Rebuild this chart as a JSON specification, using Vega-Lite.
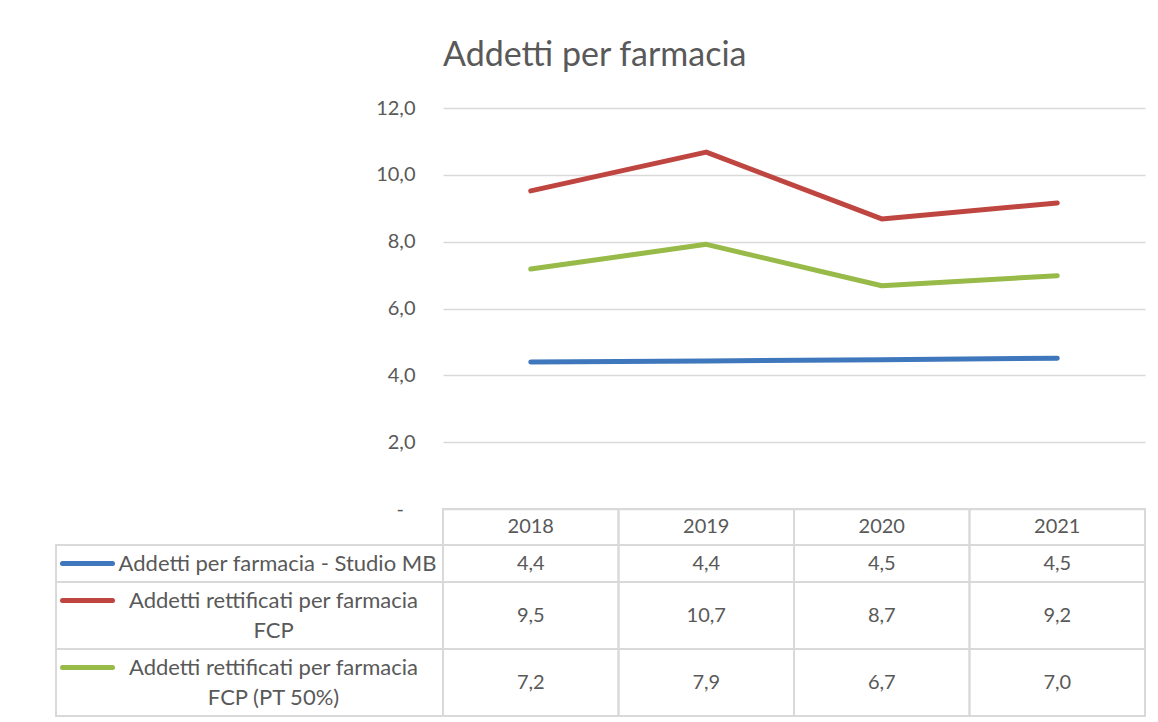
{
  "$schema": "https://vega.github.io/schema/vega-lite/v6.json",
  "padding": {"left": 51, "top": 39, "right": 5, "bottom": 5},
  "background": "white",
  "columns": 2,
  "spacing": 0,
  "bounds": "flush",
  "align": "each",
  "datasets": {
    "series": [
      {"year": "2018", "series": "Addetti per farmacia - Studio MB", "value": 4.40},
      {"year": "2019", "series": "Addetti per farmacia - Studio MB", "value": 4.43},
      {"year": "2020", "series": "Addetti per farmacia - Studio MB", "value": 4.47},
      {"year": "2021", "series": "Addetti per farmacia - Studio MB", "value": 4.51},
      {"year": "2018", "series": "Addetti rettificati per farmacia FCP", "value": 9.52},
      {"year": "2019", "series": "Addetti rettificati per farmacia FCP", "value": 10.68},
      {"year": "2020", "series": "Addetti rettificati per farmacia FCP", "value": 8.68},
      {"year": "2021", "series": "Addetti rettificati per farmacia FCP", "value": 9.16},
      {"year": "2018", "series": "Addetti rettificati per farmacia FCP (PT 50%)", "value": 7.18},
      {"year": "2019", "series": "Addetti rettificati per farmacia FCP (PT 50%)", "value": 7.92},
      {"year": "2020", "series": "Addetti rettificati per farmacia FCP (PT 50%)", "value": 6.68},
      {"year": "2021", "series": "Addetti rettificati per farmacia FCP (PT 50%)", "value": 6.98}
    ],
    "labels": [
      {"series": "Addetti per farmacia - Studio MB", "label": "Addetti per farmacia - Studio MB"},
      {"series": "Addetti rettificati per farmacia FCP", "label": "Addetti rettificati per farmacia\nFCP"},
      {"series": "Addetti rettificati per farmacia FCP (PT 50%)", "label": "Addetti rettificati per farmacia\nFCP (PT 50%)"}
    ],
    "years": [{"year": "2018"}, {"year": "2019"}, {"year": "2020"}, {"year": "2021"}]
  },
  "concat": [
    {
      "width": 387, "height": 401,
      "data": {"values": [{}]},
      "mark": {"type": "text"},
      "encoding": {"text": {"value": ""}}
    },
    {
      "width": 702, "height": 401,
      "title": {"text": "Addetti per farmacia", "anchor": "start", "frame": "group", "baseline": "alphabetic", "offset": -2, "fontSize": 34, "font": "Lato", "fontWeight": "normal", "color": "#595959"},
      "data": {"name": "series"},
      "mark": {"type": "line", "strokeWidth": 5, "strokeCap": "round", "strokeJoin": "round"},
      "encoding": {
        "x": {"field": "year", "type": "ordinal", "scale": {"type": "point", "padding": 0.5}, "axis": null},
        "y": {"field": "value", "type": "quantitative", "scale": {"domain": [0, 12], "nice": false},
          "axis": {"values": [0, 2, 4, 6, 8, 10, 12], "format": ".1f", "labelExpr": "datum.value == 0 ? '-\u2007\u200b' : datum.label", "grid": true, "gridColor": "#d9d9d9", "gridWidth": 1.5, "domain": false, "ticks": false, "labelPadding": 28, "labelFont": "Lato", "labelFontSize": 20, "labelColor": "#595959", "title": null}},
        "color": {"field": "series", "type": "nominal",
          "scale": {"domain": ["Addetti per farmacia - Studio MB", "Addetti rettificati per farmacia FCP", "Addetti rettificati per farmacia FCP (PT 50%)"], "range": ["#3F77BC", "#BF4541", "#97BA48"]},
          "legend": null}
      }
    },
    {
      "width": 387, "height": 36,
      "data": {"values": [{}]},
      "mark": {"type": "text"},
      "encoding": {"text": {"value": ""}}
    },
    {
      "width": 702, "height": 36,
      "data": {"name": "years"},
      "layer": [
        {"mark": {"type": "rect", "filled": false, "stroke": "#d9d9d9", "strokeWidth": 2},
         "encoding": {"x": {"field": "year", "type": "nominal", "scale": {"type": "band", "paddingInner": 0, "paddingOuter": 0}, "axis": null}}},
        {"mark": {"type": "text", "font": "Lato", "fontSize": 20, "fill": "#595959"},
         "encoding": {"x": {"field": "year", "type": "nominal", "axis": null}, "text": {"field": "year"}}}
      ]
    },
    {
      "width": 387, "height": 37,
      "view": {"stroke": "#d9d9d9", "strokeWidth": 2},
      "data": {"name": "labels"},
      "transform": [{"filter": "datum.series == 'Addetti per farmacia - Studio MB'"}],
      "layer": [
        {"mark": {"type": "point", "shape": "stroke", "size": 2500, "filled": false, "strokeWidth": 5, "strokeCap": "round", "opacity": 1, "xOffset": -162},
         "encoding": {"color": {"field": "series", "type": "nominal", "scale": {"domain": ["Addetti per farmacia - Studio MB", "Addetti rettificati per farmacia FCP", "Addetti rettificati per farmacia FCP (PT 50%)"], "range": ["#3F77BC", "#BF4541", "#97BA48"]}, "legend": null}}},
        {"mark": {"type": "text", "font": "Lato", "fontSize": 22, "fill": "#595959", "dx": 28, "lineBreak": "\n", "lineHeight": 30},
         "encoding": {"text": {"field": "label"}}}
      ]
    },
    {
      "width": 702, "height": 37,
      "data": {"name": "series"},
      "transform": [{"filter": "datum.series == 'Addetti per farmacia - Studio MB'"}],
      "layer": [
        {"mark": {"type": "rect", "filled": false, "stroke": "#d9d9d9", "strokeWidth": 2},
         "encoding": {"x": {"field": "year", "type": "nominal", "scale": {"type": "band", "paddingInner": 0, "paddingOuter": 0}, "axis": null}}},
        {"mark": {"type": "text", "font": "Lato", "fontSize": 20, "fill": "#595959"},
         "encoding": {"x": {"field": "year", "type": "nominal", "axis": null}, "text": {"field": "value", "type": "quantitative", "format": ".1f"}}}
      ]
    },
    {
      "width": 387, "height": 67,
      "view": {"stroke": "#d9d9d9", "strokeWidth": 2},
      "data": {"name": "labels"},
      "transform": [{"filter": "datum.series == 'Addetti rettificati per farmacia FCP'"}],
      "layer": [
        {"mark": {"type": "point", "shape": "stroke", "size": 2500, "filled": false, "strokeWidth": 5, "strokeCap": "round", "opacity": 1, "xOffset": -162, "yOffset": -15},
         "encoding": {"color": {"field": "series", "type": "nominal", "scale": {"domain": ["Addetti per farmacia - Studio MB", "Addetti rettificati per farmacia FCP", "Addetti rettificati per farmacia FCP (PT 50%)"], "range": ["#3F77BC", "#BF4541", "#97BA48"]}, "legend": null}}},
        {"mark": {"type": "text", "font": "Lato", "fontSize": 22, "fill": "#595959", "dx": 24, "dy": -15, "lineBreak": "\n", "lineHeight": 30},
         "encoding": {"text": {"field": "label"}}}
      ]
    },
    {
      "width": 702, "height": 67,
      "data": {"name": "series"},
      "transform": [{"filter": "datum.series == 'Addetti rettificati per farmacia FCP'"}],
      "layer": [
        {"mark": {"type": "rect", "filled": false, "stroke": "#d9d9d9", "strokeWidth": 2},
         "encoding": {"x": {"field": "year", "type": "nominal", "scale": {"type": "band", "paddingInner": 0, "paddingOuter": 0}, "axis": null}}},
        {"mark": {"type": "text", "font": "Lato", "fontSize": 20, "fill": "#595959"},
         "encoding": {"x": {"field": "year", "type": "nominal", "axis": null}, "text": {"field": "value", "type": "quantitative", "format": ".1f"}}}
      ]
    },
    {
      "width": 387, "height": 67,
      "view": {"stroke": "#d9d9d9", "strokeWidth": 2},
      "data": {"name": "labels"},
      "transform": [{"filter": "datum.series == 'Addetti rettificati per farmacia FCP (PT 50%)'"}],
      "layer": [
        {"mark": {"type": "point", "shape": "stroke", "size": 2500, "filled": false, "strokeWidth": 5, "strokeCap": "round", "opacity": 1, "xOffset": -162, "yOffset": -15},
         "encoding": {"color": {"field": "series", "type": "nominal", "scale": {"domain": ["Addetti per farmacia - Studio MB", "Addetti rettificati per farmacia FCP", "Addetti rettificati per farmacia FCP (PT 50%)"], "range": ["#3F77BC", "#BF4541", "#97BA48"]}, "legend": null}}},
        {"mark": {"type": "text", "font": "Lato", "fontSize": 22, "fill": "#595959", "dx": 24, "dy": -15, "lineBreak": "\n", "lineHeight": 30},
         "encoding": {"text": {"field": "label"}}}
      ]
    },
    {
      "width": 702, "height": 67,
      "data": {"name": "series"},
      "transform": [{"filter": "datum.series == 'Addetti rettificati per farmacia FCP (PT 50%)'"}],
      "layer": [
        {"mark": {"type": "rect", "filled": false, "stroke": "#d9d9d9", "strokeWidth": 2},
         "encoding": {"x": {"field": "year", "type": "nominal", "scale": {"type": "band", "paddingInner": 0, "paddingOuter": 0}, "axis": null}}},
        {"mark": {"type": "text", "font": "Lato", "fontSize": 20, "fill": "#595959"},
         "encoding": {"x": {"field": "year", "type": "nominal", "axis": null}, "text": {"field": "value", "type": "quantitative", "format": ".1f"}}}
      ]
    }
  ],
  "config": {
    "locale": {"number": {"decimal": ",", "thousands": ".", "grouping": [3], "currency": ["€", ""]}},
    "view": {"stroke": null},
    "font": "Lato"
  }
}
